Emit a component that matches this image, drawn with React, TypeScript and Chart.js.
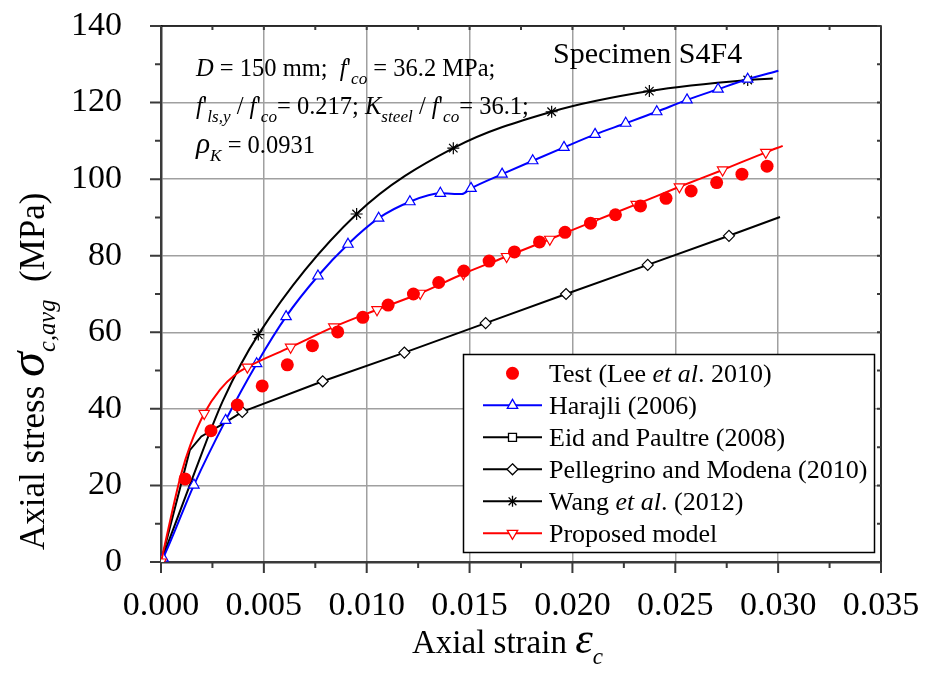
import React, { useEffect, useRef } from 'react';
import { Chart, registerables } from 'chart.js';

Chart.register(...registerables);

const SERIF = '"Liberation Serif", "Times New Roman", Times, serif';

// ---- Tick values ----
const xTickValues = [0, 0.005, 0.01, 0.015, 0.02, 0.025, 0.03, 0.035];
const yTickValues = [0, 20, 40, 60, 80, 100, 120, 140];

// ---- Test (Lee et al. 2010) ----
const testStrain = [0.00117, 0.00243, 0.00371, 0.00492, 0.00614, 0.00736, 0.00859, 0.00981, 0.01104, 0.01227, 0.0135, 0.01472, 0.01595, 0.01718, 0.0184, 0.01964, 0.02088, 0.02209, 0.02331, 0.02455, 0.02577, 0.02701, 0.02824, 0.02946];
const testStress = [21.7, 34.3, 41.0, 46.0, 51.5, 56.5, 60.1, 63.9, 67.1, 70.0, 73.0, 76.0, 78.6, 81.0, 83.6, 86.1, 88.5, 90.7, 93.0, 95.0, 96.9, 99.1, 101.3, 103.4];

// ---- Harajli (2006) ----
const harajliStrain = [0, 0.0001, 0.0016, 0.00314, 0.00465, 0.00608, 0.00763, 0.00909, 0.01058, 0.0121, 0.01358, 0.01462, 0.01507, 0.01658, 0.01807, 0.01959, 0.0211, 0.02259, 0.0241, 0.02557, 0.02708, 0.02852, 0.03001];
const harajliStress = [0, 1.0, 20.1, 37.0, 51.8, 64.1, 74.7, 83.0, 89.8, 94.1, 96.3, 96.1, 97.6, 101.3, 104.8, 108.3, 111.7, 114.6, 117.6, 120.7, 123.5, 126.1, 128.3];
const harajliMarkStrain = [0.0001, 0.0016, 0.00314, 0.00465, 0.00608, 0.00763, 0.00909, 0.01058, 0.0121, 0.01358, 0.01507, 0.01658, 0.01807, 0.01959, 0.0211, 0.02259, 0.0241, 0.02557, 0.02708, 0.02852];
const harajliMarkStress = [1.0, 20.1, 37.0, 51.8, 64.1, 74.7, 83.0, 89.8, 94.1, 96.3, 97.6, 101.3, 104.8, 108.3, 111.7, 114.6, 117.6, 120.7, 123.5, 126.1];

// ---- Eid and Paultre (2008) (not visible in plot) ----
const eidStrain: number[] = [];
const eidStress: number[] = [];

// ---- Pellegrino and Modena (2010) ----
const pellStrain = [0, 0.0014, 0.00196, 0.00295, 0.00395, 0.00786, 0.01183, 0.01578, 0.01969, 0.02366, 0.02761, 0.03009];
const pellStress = [0, 29.2, 32.8, 35.9, 39.2, 47.2, 54.7, 62.4, 70.0, 77.6, 85.2, 90.1];
const pellMarkStrain = [0.00395, 0.00786, 0.01183, 0.01578, 0.01969, 0.02366, 0.02761];
const pellMarkStress = [39.2, 47.2, 54.7, 62.4, 70.0, 77.6, 85.2];

// ---- Wang et al. (2012) ----
const wangStrain = [0, 0.0015, 0.003, 0.00473, 0.00951, 0.01421, 0.01899, 0.02374, 0.02852, 0.02974];
const wangStress = [0, 21.5, 42.0, 59.4, 90.9, 108.1, 117.6, 123.0, 125.9, 126.3];
const wangMarkStrain = [0.00473, 0.00951, 0.01421, 0.01899, 0.02374, 0.02852];
const wangMarkStress = [59.4, 90.9, 108.1, 117.6, 123.0, 125.9];

// ---- Proposed model ----
const propStrain = [0, 0.00097, 0.00143, 0.0021, 0.00287, 0.0036, 0.0042, 0.0063, 0.0084, 0.0105, 0.0126, 0.0147, 0.0168, 0.0189, 0.021, 0.0231, 0.0252, 0.0273, 0.0294, 0.03022];
const propStress = [0, 22.8, 30.6, 38.8, 45.0, 48.9, 50.9, 56.1, 61.4, 65.9, 70.2, 75.3, 79.8, 84.3, 88.9, 93.4, 98.0, 102.4, 107.0, 108.7];
const propMarkStrain = [0, 0.0021, 0.0042, 0.0063, 0.0084, 0.0105, 0.0126, 0.0147, 0.0168, 0.0189, 0.021, 0.0231, 0.0252, 0.0273, 0.0294];
const propMarkStress = [0, 38.8, 50.9, 56.1, 61.4, 65.9, 70.2, 75.3, 79.8, 84.3, 88.9, 93.4, 98.0, 102.4, 107.0];

const pts = (xs: number[], ys: number[]) => xs.map((x, i) => ({ x, y: ys[i] }));

type Run = { t: string; i?: boolean; sub?: boolean; scale?: number };

function runFont(r: Run, size: number) {
  const s = r.sub ? size * 0.7 : size * (r.scale || 1);
  return `${r.i ? 'italic ' : ''}${s}px ${SERIF}`;
}

function drawRuns(ctx: CanvasRenderingContext2D, runs: Run[], x: number, y: number, size: number) {
  let cx = x;
  for (const r of runs) {
    ctx.font = runFont(r, size);
    const dy = r.sub ? size * 0.32 : 0;
    ctx.fillText(r.t, cx, y + dy);
    cx += ctx.measureText(r.t).width;
  }
  return cx - x;
}

function drawMarker(ctx: CanvasRenderingContext2D, style: string, x: number, y: number, r: number, fill: string, stroke: string, lw: number, rot = 0) {
  ctx.save();
  ctx.fillStyle = fill;
  ctx.strokeStyle = stroke;
  ctx.lineWidth = lw;
  ctx.beginPath();
  if (style === 'circle') {
    ctx.arc(x, y, r, 0, Math.PI * 2);
    ctx.fill();
  } else if (style === 'triangle') {
    let a = (rot * Math.PI) / 180;
    ctx.moveTo(x + Math.sin(a) * r, y - Math.cos(a) * r);
    a += (2 * Math.PI) / 3;
    ctx.lineTo(x + Math.sin(a) * r, y - Math.cos(a) * r);
    a += (2 * Math.PI) / 3;
    ctx.lineTo(x + Math.sin(a) * r, y - Math.cos(a) * r);
    ctx.closePath();
    ctx.fill();
    ctx.stroke();
  } else if (style === 'rect') {
    ctx.rect(x - r, y - r, 2 * r, 2 * r);
    ctx.fill();
    ctx.stroke();
  } else if (style === 'rectRot') {
    ctx.moveTo(x, y - r);
    ctx.lineTo(x + r, y);
    ctx.lineTo(x, y + r);
    ctx.lineTo(x - r, y);
    ctx.closePath();
    ctx.fill();
    ctx.stroke();
  } else if (style === 'star') {
    for (let k = 0; k < 4; k++) {
      const a = (k * Math.PI) / 4;
      ctx.moveTo(x - Math.cos(a) * r, y - Math.sin(a) * r);
      ctx.lineTo(x + Math.cos(a) * r, y + Math.sin(a) * r);
    }
    ctx.stroke();
  }
  ctx.restore();
}

const legendItems: { runs: Run[]; line: string | null; marker: string; fill: string; stroke: string; r: number; rot?: number }[] = [
  { runs: [{ t: 'Test (Lee ' }, { t: 'et al', i: true }, { t: '. 2010)' }], line: null, marker: 'circle', fill: '#ff0000', stroke: '#ff0000', r: 6.5 },
  { runs: [{ t: 'Harajli (2006)' }], line: '#0000ff', marker: 'triangle', fill: '#ffffff', stroke: '#0000ff', r: 6 },
  { runs: [{ t: 'Eid and Paultre (2008)' }], line: '#000000', marker: 'rect', fill: '#ffffff', stroke: '#000000', r: 4 },
  { runs: [{ t: 'Pellegrino and Modena (2010)' }], line: '#000000', marker: 'rectRot', fill: '#ffffff', stroke: '#000000', r: 5.5 },
  { runs: [{ t: 'Wang ' }, { t: 'et al', i: true }, { t: '. (2012)' }], line: '#000000', marker: 'star', fill: '#000000', stroke: '#000000', r: 5.5 },
  { runs: [{ t: 'Proposed model' }], line: '#ff0000', marker: 'triangle', fill: '#ffffff', stroke: '#ff0000', r: 6, rot: 180 },
];

const decorPlugin = {
  id: 'decor',
  afterDraw(chart: any) {
    const ctx: CanvasRenderingContext2D = chart.ctx;
    const { left, right, top, bottom } = chart.chartArea;
    const xs = chart.scales.x;
    const ys = chart.scales.y;
    ctx.save();
    // border top & right
    ctx.strokeStyle = '#000';
    ctx.lineWidth = 1.5;
    ctx.beginPath();
    ctx.moveTo(left, top);
    ctx.lineTo(right, top);
    ctx.lineTo(right, bottom);
    ctx.stroke();

    // tick marks
    ctx.strokeStyle = '#3a3a3a';
    ctx.lineWidth = 2;
    ctx.beginPath();
    for (let i = 0; i < xTickValues.length; i++) {
      const v = xTickValues[i];
      const px = xs.getPixelForValue(v);
      ctx.moveTo(px, bottom); ctx.lineTo(px, bottom + 11);
      ctx.moveTo(px, top); ctx.lineTo(px, top + 4);
      if (i < xTickValues.length - 1) {
        const m = xs.getPixelForValue((v + xTickValues[i + 1]) / 2);
        ctx.moveTo(m, bottom); ctx.lineTo(m, bottom + 6);
        ctx.moveTo(m, top); ctx.lineTo(m, top + 4);
      }
    }
    for (let i = 0; i < yTickValues.length; i++) {
      const v = yTickValues[i];
      const py = ys.getPixelForValue(v);
      ctx.moveTo(left, py); ctx.lineTo(left - 11, py);
      ctx.moveTo(right, py); ctx.lineTo(right - 4, py);
      if (i < yTickValues.length - 1) {
        const m = ys.getPixelForValue((v + yTickValues[i + 1]) / 2);
        ctx.moveTo(left, m); ctx.lineTo(left - 6, m);
        ctx.moveTo(right, m); ctx.lineTo(right - 4, m);
      }
    }
    ctx.stroke();

    ctx.fillStyle = '#000';
    ctx.textBaseline = 'alphabetic';
    ctx.textAlign = 'left';

    // annotation
    const an = 24.5;
    drawRuns(ctx, [{ t: 'D', i: true }, { t: ' = 150 mm;  ' }, { t: 'f', i: true }, { t: "'" }, { t: 'co', i: true, sub: true }, { t: ' = 36.2 MPa;' }], 196, 76, an);
    drawRuns(ctx, [{ t: 'f', i: true }, { t: "'" }, { t: 'ls,y', i: true, sub: true }, { t: ' / ' }, { t: 'f', i: true }, { t: "'" }, { t: 'co', i: true, sub: true }, { t: '= 0.217; ' }, { t: 'K', i: true }, { t: 'steel', i: true, sub: true }, { t: ' / ' }, { t: 'f', i: true }, { t: "'" }, { t: 'co', i: true, sub: true }, { t: '= 36.1;' }], 196, 114, an);
    drawRuns(ctx, [{ t: 'ρ', i: true, scale: 1.2 }, { t: 'K', i: true, sub: true }, { t: ' = 0.0931' }], 196, 153, an);

    drawRuns(ctx, [{ t: 'Specimen S4F4' }], 553, 63, 30);

    // x title
    drawRuns(ctx, [{ t: 'Axial strain ' }, { t: 'ε', i: true, scale: 1.35 }, { t: 'c', i: true, sub: true }], 412, 653, 33);

    // y title
    ctx.save();
    ctx.translate(44, 550);
    ctx.rotate(-Math.PI / 2);
    drawRuns(ctx, [{ t: 'Axial stress ' }, { t: 'σ', i: true, scale: 1.45 }, { t: 'c,avg', i: true, sub: true }, { t: '  (MPa)' }], 0, 0, 35);
    ctx.restore();

    // legend
    const bx = 463.5, by = 354.5, bw = 411, bh = 198;
    ctx.fillStyle = '#fff';
    ctx.fillRect(bx, by, bw, bh);
    ctx.strokeStyle = '#000';
    ctx.lineWidth = 1.5;
    ctx.strokeRect(bx, by, bw, bh);
    const rowY0 = 373.3, rowH = 32;
    legendItems.forEach((it, k) => {
      const cy = rowY0 + k * rowH;
      if (it.line) {
        ctx.strokeStyle = it.line;
        ctx.lineWidth = 2;
        ctx.beginPath();
        ctx.moveTo(483, cy);
        ctx.lineTo(542, cy);
        ctx.stroke();
      }
      drawMarker(ctx, it.marker, 512.5, cy, it.r, it.fill, it.stroke, 1.3, it.rot || 0);
      ctx.fillStyle = '#000';
      drawRuns(ctx, it.runs, 549, cy + 9, 26);
    });
    ctx.restore();
  },
};

export default function App() {
  const ref = useRef<HTMLCanvasElement | null>(null);
  useEffect(() => {
    if (!ref.current) return;
    const lineBase = { pointRadius: 0, pointHoverRadius: 0, borderWidth: 2, fill: false, cubicInterpolationMode: 'monotone' as const };
    const chart = new Chart(ref.current, {
      type: 'line',
      data: {
        datasets: [
          { label: 'Test (Lee et al. 2010)', data: pts(testStrain, testStress), showLine: false, pointStyle: 'circle', pointRadius: 6.5, backgroundColor: '#ff0000', borderColor: '#ff0000', borderWidth: 0 },
          { label: 'Proposed markers', data: pts(propMarkStrain, propMarkStress), showLine: false, pointStyle: 'triangle', pointRotation: 180, pointRadius: 6, backgroundColor: '#ffffff', borderColor: '#ff0000', borderWidth: 1.2 },
          { label: 'Proposed model', data: pts(propStrain, propStress), ...lineBase, borderColor: '#ff0000' },
          { label: 'Harajli markers', data: pts(harajliMarkStrain, harajliMarkStress), showLine: false, pointStyle: 'triangle', pointRadius: 6, backgroundColor: '#ffffff', borderColor: '#0000ff', borderWidth: 1.2 },
          { label: 'Harajli (2006)', data: pts(harajliStrain, harajliStress), ...lineBase, borderColor: '#0000ff' },
          { label: 'Eid and Paultre (2008)', data: pts(eidStrain, eidStress), ...lineBase, borderColor: '#000000', cubicInterpolationMode: 'default' as const, tension: 0 },
          { label: 'Wang markers', data: pts(wangMarkStrain, wangMarkStress), showLine: false, pointStyle: 'star', pointRadius: 6, backgroundColor: '#000000', borderColor: '#000000', borderWidth: 1.2 },
          { label: 'Wang et al. (2012)', data: pts(wangStrain, wangStress), ...lineBase, borderColor: '#000000' },
          { label: 'Pellegrino markers', data: pts(pellMarkStrain, pellMarkStress), showLine: false, pointStyle: 'rectRot', pointRadius: 5.5, backgroundColor: '#ffffff', borderColor: '#000000', borderWidth: 1.2 },
          { label: 'Pellegrino and Modena (2010)', data: pts(pellStrain, pellStress), ...lineBase, borderColor: '#000000', cubicInterpolationMode: 'default' as const, tension: 0 },
        ] as any,
      },
      options: {
        animation: false,
        responsive: false,
        devicePixelRatio: 1,
        layout: { padding: { top: 26, right: 45, left: 0, bottom: 0 } },
        plugins: { legend: { display: false }, tooltip: { enabled: false } },
        events: [],
        scales: {
          x: {
            type: 'linear',
            min: 0,
            max: 0.035,
            afterBuildTicks: (s: any) => { s.ticks = xTickValues.map((v) => ({ value: v })); },
            afterFit: (s: any) => { s.height = 122; s.paddingLeft = 0; s.paddingRight = 0; },
            ticks: { autoSkip: false, maxRotation: 0, padding: 24, color: '#000', font: { family: SERIF, size: 34 }, callback: (v: any) => Number(v).toFixed(3) },
            grid: { color: '#a0a0a0', lineWidth: 1.5, drawTicks: false },
            border: { color: '#3a3a3a', width: 2.5 },
          },
          y: {
            type: 'linear',
            min: 0,
            max: 140,
            afterBuildTicks: (s: any) => { s.ticks = yTickValues.map((v) => ({ value: v })); },
            afterFit: (s: any) => { s.width = 161; s.paddingTop = 0; s.paddingBottom = 0; },
            ticks: { autoSkip: false, padding: 39, color: '#000', font: { family: SERIF, size: 34 }, callback: (v: any) => String(v) },
            grid: { color: '#a0a0a0', lineWidth: 1.5, drawTicks: false },
            border: { color: '#3a3a3a', width: 2.5 },
          },
        },
      } as any,
      plugins: [decorPlugin],
    });
    return () => chart.destroy();
  }, []);
  return (
    <div style={{ position: 'absolute', left: 0, top: 0, width: 926, height: 684, background: '#fff' }}>
      <canvas ref={ref} width={926} height={684} style={{ display: 'block', width: 926, height: 684 }} />
    </div>
  );
}
